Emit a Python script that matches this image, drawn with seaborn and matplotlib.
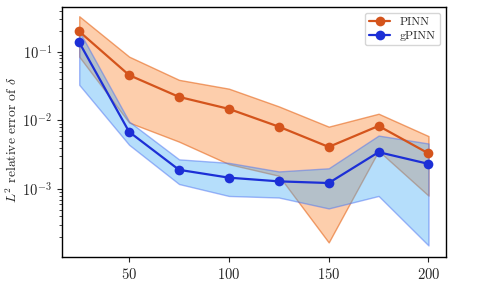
import numpy as np
import pandas as pd
import matplotlib
matplotlib.use("Agg")
import matplotlib.pyplot as plt
import seaborn as sns

n_points = [25, 50, 75, 100, 125, 150, 175, 200]
pinn_mean = [0.198, 0.0457, 0.022, 0.0147, 0.0081, 0.0041, 0.0083, 0.0033]
pinn_upper = [0.33, 0.085, 0.039, 0.029, 0.016, 0.0081, 0.0125, 0.0059]
pinn_lower = [0.085, 0.0093, 0.0049, 0.0023, 0.00156, 0.000166, 0.0036, 0.00080]
gpinn_mean = [0.137, 0.0068, 0.0019, 0.00146, 0.00129, 0.00122, 0.00344, 0.00232]
gpinn_upper = [0.20, 0.0096, 0.0027, 0.0024, 0.0018, 0.0020, 0.0060, 0.0046]
gpinn_lower = [0.033, 0.0044, 0.00118, 0.00079, 0.00075, 0.00052, 0.00079, 0.00015]

sns.set_style("ticks")
plt.rcParams["font.family"] = ["serif"]
plt.rcParams["font.serif"] = ["cmr10", "DejaVu Serif"]
plt.rcParams["mathtext.fontset"] = "cm"
plt.rcParams["axes.formatter.use_mathtext"] = True

df = pd.DataFrame({
    "N": n_points * 2,
    "err": pinn_mean + gpinn_mean,
    "method": ["PINN"] * len(n_points) + ["gPINN"] * len(n_points),
})

fig = plt.figure(figsize=(4.79, 2.82), dpi=100)
ax = fig.add_axes([0.129, 0.089, 0.802, 0.886])

orange = "#d4541c"
blue = "#1c2fd6"
ax.fill_between(n_points, pinn_lower, pinn_upper, facecolor=(0.99, 0.50, 0.15, 0.38),
                edgecolor=(0.90, 0.40, 0.10, 0.6), linewidth=1.0)
ax.fill_between(n_points, gpinn_lower, gpinn_upper, facecolor=(0.28, 0.68, 0.96, 0.4),
                edgecolor=(0.30, 0.45, 0.95, 0.5), linewidth=1.0)

sns.lineplot(data=df, x="N", y="err", hue="method", palette={"PINN": orange, "gPINN": blue},
             marker="o", markersize=7, markeredgewidth=0, linewidth=1.6, ax=ax)

ax.set_yscale("log")
ax.set_ylim(1.02e-4, 0.45)
ax.set_xlim(16.25, 208.75)
ax.set_xticks([50, 100, 150, 200])
ax.set_xlabel("")
ax.set_ylabel(r"$L^2$ relative error of $\delta$", fontsize=9.8)
ax.yaxis.set_label_coords(-0.108, 0.47)
ax.tick_params(labelsize=10.5, direction="out")
for s in ax.spines.values():
    s.set_linewidth(1.0)
    s.set_color("black")
leg = ax.legend(loc="upper right", fontsize=8.5, frameon=True, fancybox=True,
                handlelength=1.8, borderpad=0.35, labelspacing=0.3)
leg.get_frame().set_edgecolor("#cccccc")

fig.savefig("out.png", dpi=100)
